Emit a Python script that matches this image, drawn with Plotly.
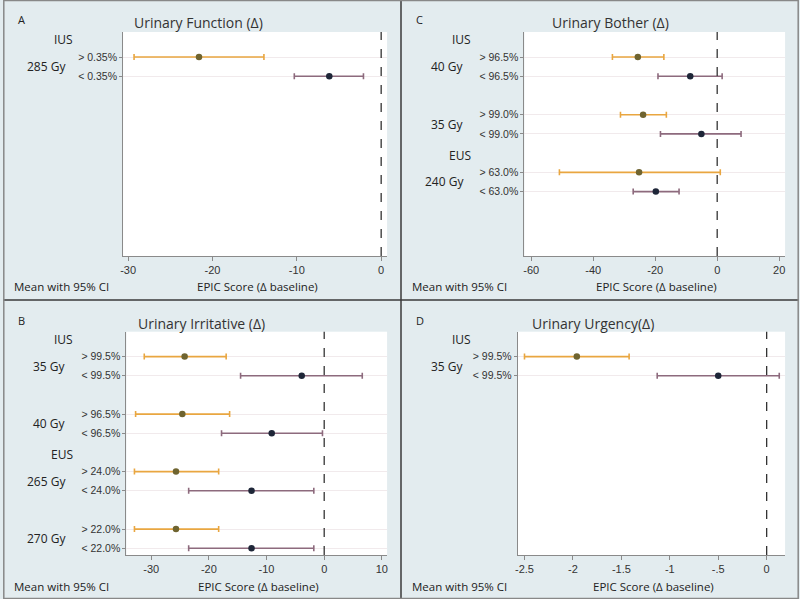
import plotly.graph_objects as go

# ---------------- data ----------------
# Panel A: Urinary Function
A_labels = ["> 0.35%", "< 0.35%"]
A_mean = [-21.6, -6.15]
A_lo = [-29.3, -10.3]
A_hi = [-13.9, -2.1]
A_groups = [("IUS", "285 Gy")]

# Panel C: Urinary Bother
C_labels = ["> 96.5%", "< 96.5%", "> 99.0%", "< 99.0%", "> 63.0%", "< 63.0%"]
C_mean = [-25.6, -8.7, -23.9, -5.1, -25.2, -19.8]
C_lo = [-33.8, -19.1, -31.2, -18.3, -50.9, -27.1]
C_hi = [-17.2, 1.6, -16.4, 7.7, 1.0, -12.3]
C_groups = [("IUS", "40 Gy"), (None, "35 Gy"), ("EUS", "240 Gy")]

# Panel B: Urinary Irritative
B_labels = ["> 99.5%", "< 99.5%", "> 96.5%", "< 96.5%", "> 24.0%", "< 24.0%", "> 22.0%", "< 22.0%"]
B_mean = [-24.2, -3.9, -24.6, -9.1, -25.7, -12.6, -25.7, -12.6]
B_lo = [-31.2, -14.5, -32.7, -17.8, -32.9, -23.5, -32.9, -23.5]
B_hi = [-17.0, 6.6, -16.4, -0.3, -18.3, -1.8, -18.3, -1.8]
B_groups = [("IUS", "35 Gy"), (None, "40 Gy"), ("EUS", "265 Gy"), (None, "270 Gy")]

# Panel D: Urinary Urgency
D_labels = ["> 99.5%", "< 99.5%"]
D_mean = [-1.96, -0.5]
D_lo = [-2.5, -1.13]
D_hi = [-1.42, 0.13]
D_groups = [("IUS", "35 Gy")]

TITLES = {"A": "Urinary Function (Δ)", "C": "Urinary Bother (Δ)",
          "B": "Urinary Irritative (Δ)", "D": "Urinary Urgency(Δ)"}

# ---------------- styling / layout ----------------
W, H = 800, 599
PANEL_BG = "#e3ecef"
HI_LINE = "#e9a640"
HI_MARK = "#6f6430"
LO_LINE = "#8d6a7d"
LO_MARK = "#1e2638"
TXT = "#222222"
FONT = "Open Sans"
TICKFONT = "Liberation Sans"

def px_x(p):
    return p / W

def px_y(p):
    return 1 - p / H

panels = [
    ("A", "", A_labels, A_mean, A_lo, A_hi, A_groups, (120.7, 386, 32, 256), [-30.6, 0.7],
     [-30, -20, -10, 0], ["-30", "-20", "-10", "0"], (0, 0), 196),
    ("C", "2", C_labels, C_mean, C_lo, C_hi, C_groups, (524, 786, 32, 256), [-62.2, 21.9],
     [-60, -40, -20, 0, 20], ["-60", "-40", "-20", "0", "20"], (400, 0), 611),
    ("B", "3", B_labels, B_mean, B_lo, B_hi, B_groups, (124, 386, 331.7, 555), [-34.3, 10.9],
     [-30, -20, -10, 0, 10], ["-30", "-20", "-10", "0", "10"], (0, 300), 199),
    ("D", "4", D_labels, D_mean, D_lo, D_hi, D_groups, (517.3, 786, 331.7, 555), [-2.57, 0.19],
     [-2.5, -2, -1.5, -1, -0.5, 0], ["-2.5", "-2", "-1.5", "-1", "-.5", "0"], (400, 300), 593),
]

fig = go.Figure()
annotations = []
shapes = []
layout = {}

for key, sfx, labels, mean, lo, hi, groups, box, xr, tv, tt, origin, title_x in panels:
    ypos = []
    for g in range(len(groups)):
        ypos += [3 * g, 3 * g + 1]
    xa = "x" + sfx
    ya = "y" + sfx
    for i in range(len(labels)):
        is_hi = labels[i].startswith(">")
        fig.add_trace(go.Scatter(
            x=[mean[i]], y=[ypos[i]], xaxis=xa, yaxis=ya, mode="markers",
            marker=dict(size=6.5, color=HI_MARK if is_hi else LO_MARK),
            error_x=dict(type="data", symmetric=False,
                         array=[hi[i] - mean[i]], arrayminus=[mean[i] - lo[i]],
                         color=HI_LINE if is_hi else LO_LINE, thickness=1.6, width=3),
            showlegend=False, hoverinfo="skip"))
    x0, x1, y0, y1 = box
    layout["xaxis" + sfx] = dict(
        domain=[px_x(x0), px_x(x1)], anchor=ya, range=xr, tickvals=tv, ticktext=tt,
        showgrid=False, zeroline=False, showline=True, linecolor="#8a8a8a", linewidth=1,
        ticks="outside", ticklen=4, tickcolor="#8a8a8a",
        tickfont=dict(family=TICKFONT, size=11, color="#333333"))
    layout["yaxis" + sfx] = dict(
        domain=[px_y(y1), px_y(y0)], anchor=xa, range=[10.35, -1.3],
        tickvals=ypos, ticktext=labels, showgrid=True, gridcolor="#f1eaec", gridwidth=1,
        zeroline=False, showline=True, linecolor="#8a8a8a", linewidth=1,
        ticks="outside", ticklen=3, tickcolor="#8a8a8a",
        tickfont=dict(family=TICKFONT, size=10.5, color="#333333"))
    shapes.append(dict(type="line", xref=xa, yref=ya + " domain", x0=0, x1=0, y0=0, y1=1,
                       line=dict(color="#333333", width=1.3, dash="dash")))
    ox, oy = origin
    for g, (hdr, dose) in enumerate(groups):
        if hdr:
            annotations.append(dict(xref="paper", yref=ya, x=px_x(ox + 72), y=3 * g - 0.9,
                                    text=hdr, showarrow=False, xanchor="right", yanchor="middle",
                                    font=dict(family=FONT, size=12, color=TXT)))
        annotations.append(dict(xref="paper", yref=ya, x=px_x(ox + 65), y=3 * g + 0.5,
                                text=dose, showarrow=False, xanchor="right", yanchor="middle",
                                font=dict(family=FONT, size=12, color=TXT)))
    annotations.append(dict(xref="paper", yref="paper", x=px_x(ox + 13), y=px_y(oy + 20),
                            text=key, showarrow=False, xanchor="left", yanchor="middle",
                            font=dict(family=FONT, size=11, color=TXT)))
    annotations.append(dict(xref="paper", yref="paper", x=px_x(title_x), y=px_y(oy + 23),
                            text=TITLES[key], showarrow=False, xanchor="center", yanchor="middle",
                            font=dict(family=FONT, size=14, color="#333333")))
    annotations.append(dict(xref="paper", yref="paper", x=px_x(ox + 9), y=px_y(oy + 286),
                            text="Mean with 95% CI", showarrow=False, xanchor="left", yanchor="middle",
                            font=dict(family=FONT, size=11.5, color=TXT)))
    annotations.append(dict(xref="paper", yref="paper", x=px_x((x0 + x1) / 2 + 2), y=px_y(oy + 286),
                            text="EPIC Score (Δ baseline)", showarrow=False, xanchor="center",
                            yanchor="middle", font=dict(family=FONT, size=11.5, color=TXT)))

shapes.append(dict(type="line", xref="paper", yref="paper", x0=0.5, x1=0.5, y0=0, y1=1,
                   line=dict(color="#3a3a3a", width=1.5)))
shapes.append(dict(type="line", xref="paper", yref="paper", x0=0, x1=1, y0=px_y(300), y1=px_y(300),
                   line=dict(color="#3a3a3a", width=1.5)))
shapes.append(dict(type="rect", xref="paper", yref="paper", x0=0.001, x1=0.999, y0=0.001, y1=0.999,
                   line=dict(color="#888888", width=1.5)))

fig.update_layout(
    width=W, height=H, margin=dict(l=0, r=0, t=0, b=0),
    paper_bgcolor=PANEL_BG, plot_bgcolor="white",
    annotations=annotations, shapes=shapes, **layout)

fig.write_html("out.html", config={"displayModeBar": False},
               post_script="document.body.style.margin='0';document.body.style.overflow='hidden';")
